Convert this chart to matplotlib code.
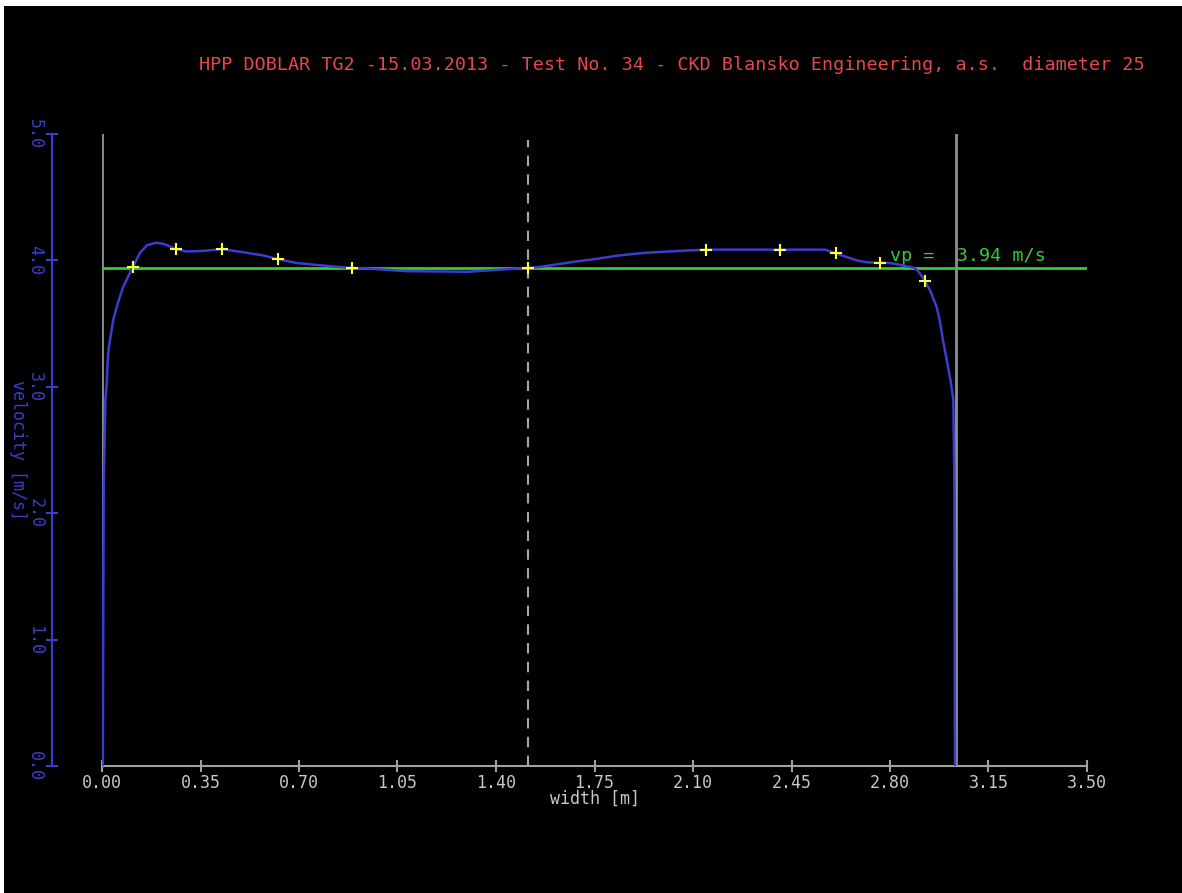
import matplotlib
matplotlib.use('Agg')
import matplotlib.pyplot as plt
from matplotlib.patches import Rectangle

# velocity profile across the measured width
width_m = [0.003, 0.004, 0.006, 0.012, 0.017, 0.020, 0.024, 0.040, 0.056, 0.075,
           0.110, 0.135, 0.160, 0.192, 0.220, 0.263, 0.30, 0.36, 0.426, 0.514,
           0.571, 0.625, 0.69, 0.76, 0.83, 0.888, 0.95, 1.08, 1.30, 1.40,
           1.47, 1.514, 1.56, 1.62, 1.68, 1.75, 1.84, 1.93, 2.05, 2.146,
           2.409, 2.569, 2.608, 2.641, 2.682, 2.717, 2.764, 2.80, 2.889, 2.905,
           2.924, 2.945, 2.966, 2.978, 2.988, 3.001, 3.015, 3.025, 3.029, 3.030,
           3.031]
velocity = [0.0, 0.8, 2.2, 2.9, 3.03, 3.19, 3.31, 3.53, 3.66, 3.79,
            3.95, 4.06, 4.12, 4.14, 4.13, 4.09, 4.07, 4.075, 4.09, 4.06,
            4.04, 4.01, 3.98, 3.965, 3.95, 3.94, 3.935, 3.915, 3.91, 3.925,
            3.935, 3.94, 3.95, 3.97, 3.99, 4.01, 4.04, 4.06, 4.075, 4.085,
            4.085, 4.085, 4.055, 4.03, 4.00, 3.985, 3.98, 3.98, 3.94, 3.90,
            3.84, 3.75, 3.63, 3.51, 3.37, 3.22, 3.05, 2.90, 2.2, 0.8,
            0.0]

# measuring points (yellow crosses)
meas_x = [0.110, 0.263, 0.426, 0.625, 0.888, 1.514, 2.146, 2.409, 2.608, 2.764, 2.924]
meas_v = [3.95, 4.09, 4.09, 4.01, 3.94, 3.94, 4.085, 4.085, 4.055, 3.98, 3.84]

vp = 3.94
wall_left = 0.0
wall_right = 3.036
centre = 1.515

xticks = [0.00, 0.35, 0.70, 1.05, 1.40, 1.75, 2.10, 2.45, 2.80, 3.15, 3.50]
yticks = [0.0, 1.0, 2.0, 3.0, 4.0, 5.0]

title = "HPP DOBLAR TG2 -15.03.2013 - Test No. 34 - CKD Blansko Engineering, a.s.  diameter 25"

plt.rcParams['font.family'] = ['DejaVu Sans Mono', 'DejaVu Sans']

W, H = 1182, 893
fig = plt.figure(figsize=(W / 100, H / 100), dpi=100, facecolor='white')
# black screen with a thin white margin at top and left
fig.patches.append(Rectangle((4 / W, 0), 1, 1 - 6 / H, transform=fig.transFigure,
                             facecolor='black', edgecolor='none', zorder=-10))

ax = fig.add_axes([102 / W, 1 - 766 / H, 985 / W, 632 / H])
ax.set_facecolor('none')
ax.set_xlim(0, 3.5)
ax.set_ylim(0, 5)

blue = '#3c3cd0'
gray = '#a0a0a0'

for s in ['top', 'right']:
    ax.spines[s].set_visible(False)
ax.spines['left'].set_position(('outward', 36))
ax.spines['left'].set_color(blue)
ax.spines['left'].set_linewidth(1.5)
ax.spines['bottom'].set_color(gray)
ax.spines['bottom'].set_linewidth(1.5)

ax.set_xticks(xticks)
ax.set_xticklabels([f"{t:.2f}" for t in xticks])
ax.set_yticks(yticks)
ax.set_yticklabels([f"{t:.1f}" for t in yticks], rotation=-90, va='top')
ax.tick_params(axis='x', direction='inout', length=8, width=1.5, color=gray,
               labelcolor='#c8c8c8', labelsize=12, pad=2)
ax.tick_params(axis='y', direction='inout', length=9, width=1.5, color=blue,
               labelcolor=blue, labelsize=12, pad=1)
for lab in ax.get_yticklabels():
    lab.set_va('center')

# walls and centre line
ax.plot([wall_left, wall_left], [0, 5], color='#909090', lw=2, zorder=2)
ax.plot([wall_right, wall_right], [0, 5], color='#909090', lw=2, zorder=2)
ax.plot([centre, centre], [0, 4.95], color='#a8a8a8', lw=1.5, ls=(0, (5, 4)), zorder=2)

# mean velocity line
ax.axhline(vp, color='#33cc33', lw=2, zorder=3)
ax.text(2.80, vp + 0.02, f"vp =  {vp:.2f} m/s", color='#33cc33', fontsize=13.3,
        ha='left', va='bottom')

# profile and measured points
ax.plot(width_m, velocity, color=blue, lw=1.8, zorder=4)
ax.plot(meas_x, meas_v, ls='none', marker='+', ms=9, mew=1.5, color='#ffff40', zorder=5)

ax.text(-84 / 985, 0.5, "velocity [m/s]", transform=ax.transAxes, rotation=-90,
        color=blue, fontsize=12, ha='center', va='center')
ax.text(0.5, -33 / 632, "width [m]", transform=ax.transAxes, color='#c8c8c8',
        fontsize=12, ha='center', va='center')

fig.text(1145 / W, 1 - 65 / H, title, color='#e84848', fontsize=13.25, ha='right', va='center')

fig.savefig('out.png', dpi=100, facecolor=fig.get_facecolor())
